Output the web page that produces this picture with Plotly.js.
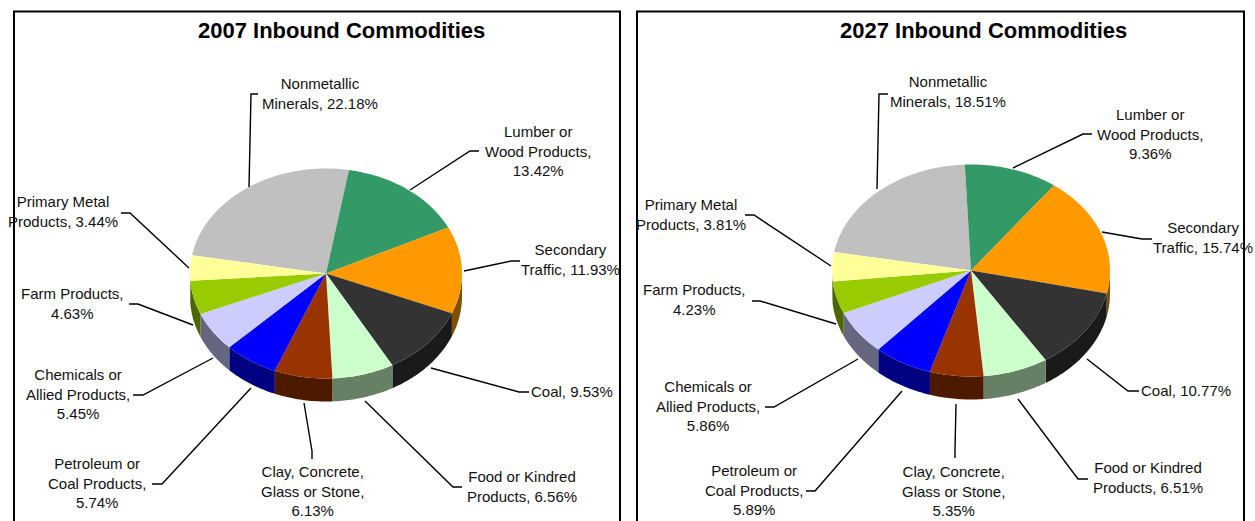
<!DOCTYPE html>
<html><head><meta charset="utf-8">
<script src="https://cdn.plot.ly/plotly-3.0.1.min.js"></script>
<style>html,body{margin:0;padding:0;background:#fff;overflow:hidden}#chart{width:1255px;height:521px}</style>
</head><body><div id="chart"></div>
<script>
// ---- data ----
const categories = ["Nonmetallic Minerals","Lumber or Wood Products","Secondary Traffic","Coal","Food or Kindred Products","Clay, Concrete, Glass or Stone","Petroleum or Coal Products","Chemicals or Allied Products","Farm Products","Primary Metal Products"];
const values2007 = [22.18,13.42,11.93,9.53,6.56,6.13,5.74,5.45,4.63,3.44];
const values2027 = [18.51,9.36,15.74,10.77,6.51,5.35,5.89,5.86,4.23,3.81];
const labelLines2007 = ["Nonmetallic<br>Minerals, 22.18%","Lumber or<br>Wood Products,<br>13.42%","Secondary<br>Traffic, 11.93%","Coal, 9.53%","Food or Kindred<br>Products, 6.56%","Clay, Concrete,<br>Glass or Stone,<br>6.13%","Petroleum or<br>Coal Products,<br>5.74%","Chemicals or<br>Allied Products,<br>5.45%","Farm Products,<br>4.63%","Primary Metal<br>Products, 3.44%"];
const labelLines2027 = ["Nonmetallic<br>Minerals, 18.51%","Lumber or<br>Wood Products,<br>9.36%","Secondary<br>Traffic, 15.74%","Coal, 10.77%","Food or Kindred<br>Products, 6.51%","Clay, Concrete,<br>Glass or Stone,<br>5.35%","Petroleum or<br>Coal Products,<br>5.89%","Chemicals or<br>Allied Products,<br>5.86%","Farm Products,<br>4.23%","Primary Metal<br>Products, 3.81%"];

// ---- styles and layout ----
const topColors  = ["#C0C0C0","#339966","#FF9900","#333333","#CCFFCC","#993300","#0000FF","#CCCCFF","#99CC00","#FFFF99"];
const sideColors = ["#606060","#1A4D33","#805000","#1A1A1A","#668066","#4D1A00","#000080","#666680","#4D6600","#808050"];
const font = "Liberation Sans, Arial, sans-serif";
const panels = [
  {title:"2007 Inbound Commodities", titleX:341, values:values2007, labels:labelLines2007, xa:"x", ya:"y",
   cx:326, cy:273.5, rx:136, ry:105,
   labelPos:[[320,93.7],[538,150.7],[570,259.7],[572,391.7],[522,486.7],[312,490.7],[97,482.7],[78,393.7],[72,303.7],[63,211.7]],
   leaders:[[[258,94],[251,94],[249,187]],[[479,151],[470,151],[410,190]],[[520,261],[511,261],[464,271]],[[529,392],[519,392],[431,368]],[[462,487],[453,487],[365,401]],[[312,459],[312,451],[304,403]],[[152,484],[162,484],[251,388]],[[133,395],[143,395],[213,358]],[[129,304],[138,304],[193,325]],[[121,213],[130,213],[189,268]]]},
  {title:"2027 Inbound Commodities", titleX:983.7, values:values2027, labels:labelLines2027, xa:"x2", ya:"y2",
   cx:971, cy:270.5, rx:139, ry:106,
   labelPos:[[948,91.7],[1150,133.7],[1203,237.7],[1186,390.7],[1148,477.7],[953,490.7],[754,489.7],[708,405.7],[694,299.7],[691,214.7]],
   leaders:[[[888,94],[879,94],[877,189]],[[1092,134],[1083,134],[1013,168]],[[1152,239],[1142,239],[1102,232]],[[1139,391],[1128,391],[1087,359]],[[1088,479],[1078,479],[1018,399]],[[955,458],[955,450],[956,404]],[[806,491],[815,491],[902,391]],[[765,407],[774,407],[858,359]],[[752,301],[760,301],[836,324]],[[745,215],[754,215],[831,266]]]}
];
const firstSliceDeg = 280, depth = 23, stepDeg = 1;
const rad = d => d*Math.PI/180;

function arc(p, a0, a1, dy){
  const n = Math.max(2, Math.ceil(Math.abs(a1-a0)/stepDeg));
  const xs=[], ys=[];
  for(let i=0;i<=n;i++){
    const a = rad(a0+(a1-a0)*i/n);
    xs.push(p.cx+p.rx*Math.sin(a)); ys.push(p.cy-p.ry*Math.cos(a)+dy);
  }
  return [xs,ys];
}
const traces=[], annotations=[], shapes=[];
panels.forEach(p=>{
  const total = p.values.reduce((s,v)=>s+v,0);
  let cum = 0; const spans = p.values.map(v=>{const a0=firstSliceDeg-360+cum/total*360; cum+=v; return [a0, firstSliceDeg-360+cum/total*360];});
  // side wall: only the part of the rim that faces the viewer (90..270 deg)
  spans.forEach((s,i)=>{
    [[90,270],[-270,-90]].forEach(w=>{
      const a0=Math.max(s[0],w[0]), a1=Math.min(s[1],w[1]);
      if(a1<=a0) return;
      const [tx,ty]=arc(p,a0,a1,0), [bx,by]=arc(p,a1,a0,depth);
      traces.push({type:"scatter",mode:"none",fill:"toself",fillcolor:sideColors[i],x:tx.concat(bx),y:ty.concat(by),xaxis:p.xa,yaxis:p.ya,hoverinfo:"skip",showlegend:false});
    });
  });
  // top face
  spans.forEach((s,i)=>{
    const [ax,ay]=arc(p,s[0],s[1],0);
    traces.push({type:"scatter",mode:"none",fill:"toself",fillcolor:topColors[i],x:[p.cx].concat(ax,[p.cx]),y:[p.cy].concat(ay,[p.cy]),xaxis:p.xa,yaxis:p.ya,name:categories[i],hoverinfo:"name+text",text:p.values[i]+"%",showlegend:false});
  });
  // labels
  p.labels.forEach((t,i)=>annotations.push({xref:p.xa,yref:p.ya,x:p.labelPos[i][0],y:p.labelPos[i][1],text:t,showarrow:false,xanchor:"center",yanchor:"middle",align:"center",font:{family:font,size:15,color:"#111"}}));
  // leader lines
  p.leaders.forEach(l=>shapes.push({type:"path",xref:p.xa,yref:p.ya,path:"M"+l.map(q=>q.join(",")).join("L"),line:{color:"#000",width:1.4},fillcolor:"rgba(0,0,0,0)"}));
  // panel title
  annotations.push({xref:p.xa,yref:p.ya,x:p.titleX,y:30,text:"<b>"+p.title+"</b>",showarrow:false,xanchor:"center",yanchor:"middle",font:{family:font,size:22,color:"#000"}});
});
// panel frames
[[14,620],[637,1244]].forEach(f=>shapes.push({type:"rect",xref:"paper",yref:"paper",x0:f[0]/1255,x1:f[1]/1255,y0:-0.05,y1:1-11.5/521,line:{color:"#000",width:2},layer:"below"}));

const hidden = {visible:false,fixedrange:true};
Plotly.newPlot("chart",traces,{
  width:1255,height:521,margin:{l:0,r:0,t:0,b:0},paper_bgcolor:"#fff",plot_bgcolor:"rgba(0,0,0,0)",showlegend:false,
  xaxis:Object.assign({domain:[0,0.5],range:[0,627.5]},hidden),
  yaxis:Object.assign({domain:[0,1],range:[521,0]},hidden),
  xaxis2:Object.assign({domain:[0.5,1],range:[627.5,1255]},hidden),
  yaxis2:Object.assign({domain:[0,1],range:[521,0],anchor:"x2"},hidden),
  annotations:annotations,shapes:shapes
},{displayModeBar:false,staticPlot:false});
</script></body></html>
